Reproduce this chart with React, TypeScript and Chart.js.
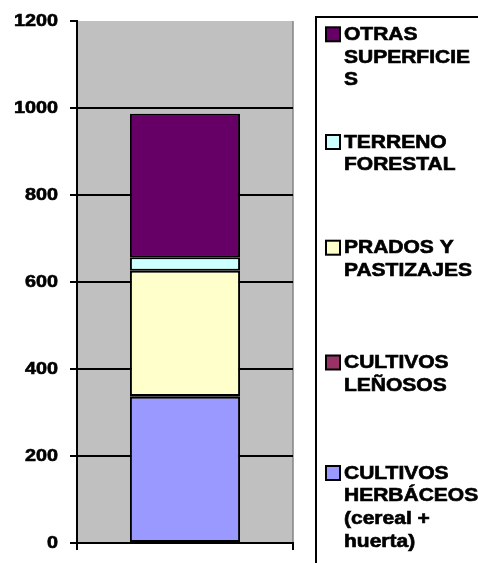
import React, { useEffect, useRef } from "react";
import { Chart, registerables } from "chart.js";

Chart.register(...registerables);

const categories = [""];
const seriesLabels: string[][] = [
  ["CULTIVOS", "HERBÁCEOS", "(cereal +", "huerta)"],
  ["CULTIVOS", "LEÑOSOS"],
  ["PRADOS Y", "PASTIZAJES"],
  ["TERRENO", "FORESTAL"],
  ["OTRAS", "SUPERFICIE", "S"],
];
const herbaceos = [336];
const lenosos = [2];
const prados = [288];
const forestal = [31];
const otras = [330];
const seriesValues = [herbaceos, lenosos, prados, forestal, otras];
const seriesColors = ["#9999FF", "#993366", "#FFFFCC", "#CCFFFF", "#660066"];
const yMin = 0;
const yMax = 1200;
const yStep = 200;

const SX = 1.2;
const TICK_FONT = "bold 16.5px 'Liberation Sans', Arial, sans-serif";
const LEG_FONT = "bold 17.5px 'Liberation Sans', Arial, sans-serif";

function boldText(ctx: any, s: string) {
  ctx.fillText(s, 0, 0);
  ctx.strokeText(s, 0, 0);
}

const plotBg = {
  id: "plotBg",
  beforeDraw(chart: any) {
    const { ctx, chartArea: a } = chart;
    ctx.save();
    ctx.fillStyle = "#C0C0C0";
    ctx.fillRect(a.left, a.top, a.right - a.left, a.bottom - a.top);
    ctx.strokeStyle = "#858585";
    ctx.lineWidth = 1.5;
    ctx.beginPath();
    ctx.moveTo(a.right, a.top);
    ctx.lineTo(a.right, a.bottom);
    ctx.stroke();
    ctx.restore();
  },
};

const customText = {
  id: "customText",
  afterDraw(chart: any) {
    const { ctx } = chart;
    const y = chart.scales.y;
    ctx.save();
    ctx.fillStyle = "#000";
    ctx.strokeStyle = "#000";
    ctx.lineWidth = 0.6;
    ctx.font = TICK_FONT;
    ctx.textAlign = "right";
    ctx.textBaseline = "middle";
    y.ticks.forEach((t: any, i: number) => {
      const py = y.getPixelForTick(i);
      ctx.save();
      ctx.translate(58, py + 0.5);
      ctx.scale(SX, 1);
      boldText(ctx, String(t.value));
      ctx.restore();
    });

    // legend box
    ctx.lineWidth = 2;
    ctx.strokeRect(316, 17, 200, 600);

    const tops = [27.3, 135, 240.7, 355.5, 466];
    const pitch = 22.7;
    const cap = 12.6;
    ctx.font = LEG_FONT;
    ctx.textAlign = "left";
    ctx.textBaseline = "alphabetic";
    const order = chart.data.datasets.map((_: any, i: number) => i).reverse();
    order.forEach((di: number, k: number) => {
      const ds = chart.data.datasets[di];
      const top = tops[k];
      ctx.fillStyle = ds.backgroundColor;
      ctx.fillRect(326, top, 14, 14);
      ctx.lineWidth = 2;
      ctx.strokeStyle = "#000";
      ctx.strokeRect(326, top, 14, 14);
      ctx.fillStyle = "#000";
      ctx.lineWidth = 0.6;
      (ds.lines as string[]).forEach((ln, j) => {
        ctx.save();
        ctx.translate(344, top + cap + j * pitch);
        ctx.scale(SX, 1);
        boldText(ctx, ln);
        ctx.restore();
      });
    });
    ctx.restore();
  },
};

export default function App() {
  const ref = useRef<HTMLCanvasElement>(null);
  useEffect(() => {
    document.body.style.margin = "0";
    const chart = new Chart(ref.current!, {
      type: "bar",
      data: {
        labels: categories,
        datasets: seriesValues.map((vals, i) => ({
          label: seriesLabels[i].join(" "),
          lines: seriesLabels[i],
          data: vals,
          backgroundColor: seriesColors[i],
          borderColor: "#000",
          borderWidth: 2,
          borderSkipped: false,
          barPercentage: 0.51,
          categoryPercentage: 1,
        })) as any,
      },
      options: {
        responsive: false,
        animation: false,
        layout: { padding: { top: 21, right: 185, left: 0, bottom: 0 } },
        plugins: { legend: { display: false }, tooltip: { enabled: false } },
        scales: {
          x: {
            stacked: true,
            offset: true,
            grid: {
              offset: true,
              drawOnChartArea: false,
              color: "#000",
              lineWidth: 2,
              tickLength: 7,
            },
            border: { color: "#000", width: 2 },
            ticks: { display: false },
            afterFit: (s: any) => {
              s.height = 20;
            },
          },
          y: {
            stacked: true,
            min: yMin,
            max: yMax,
            ticks: { display: false, stepSize: yStep },
            grid: {
              color: (c: any) => (c.tick && c.tick.value === yMax ? "rgba(0,0,0,0)" : "#000"),
              tickColor: "#000",
              lineWidth: 2,
              tickLength: 7,
            },
            border: { color: "#000", width: 2 },
            afterFit: (s: any) => {
              s.width = 77;
            },
          },
        },
      },
      plugins: [plotBg, customText],
    });
    return () => chart.destroy();
  }, []);
  return <canvas ref={ref} width={478} height={563} style={{ display: "block" }} />;
}
